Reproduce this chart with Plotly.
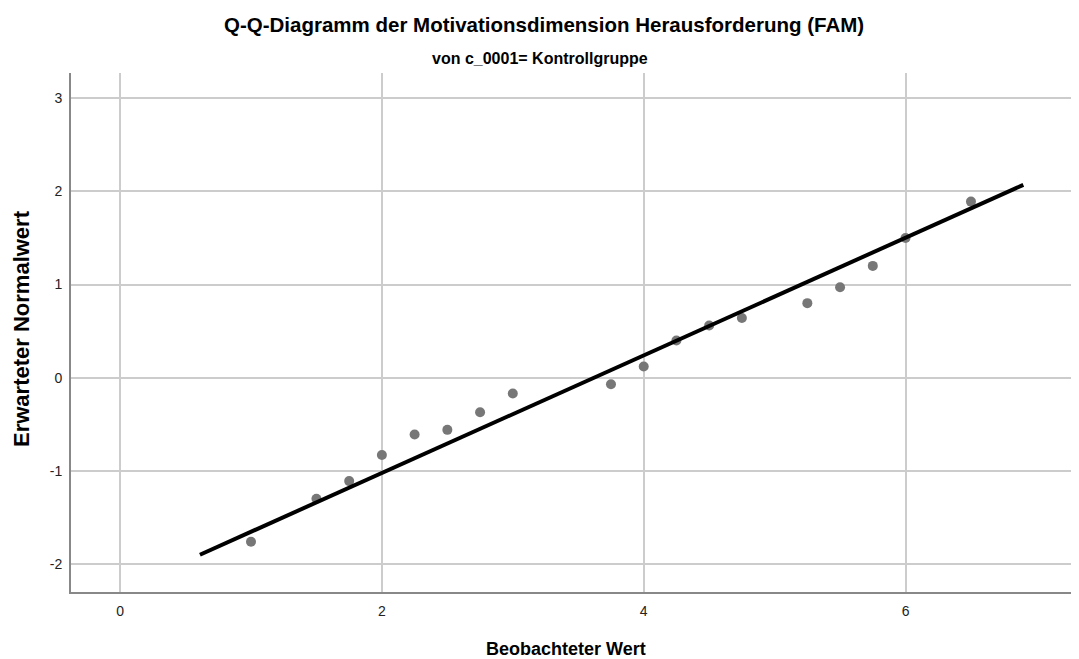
import plotly.graph_objects as go

observed = [1.0, 1.5, 1.75, 2.0, 2.25, 2.5, 2.75, 3.0, 3.75, 4.0, 4.25, 4.5, 4.75, 5.25, 5.5, 5.75, 6.0, 6.5]
expected = [-1.76, -1.30, -1.11, -0.83, -0.61, -0.56, -0.37, -0.17, -0.07, 0.12, 0.40, 0.56, 0.64, 0.80, 0.97, 1.20, 1.50, 1.89]
line_x = [0.61, 6.90]
line_y = [-1.90, 2.07]
x_ticks = [0, 2, 4, 6]
x_ticktext = ["0", "2", "4", "6"]
y_ticks = [-2, -1, 0, 1, 2, 3]
y_ticktext = ["-2", "-1", "0", "1", "2", "3"]

FONT = "Liberation Sans, Arial, sans-serif"
W, H = 1079, 659
OFF = 8  # page body margin offset of the figure in the browser
# target screen pixels of plot area: left 71, right 1077, top 73, bottom 592
ML, MT = 71 - OFF, 73 - OFF
MR = W - (1077 - OFF)
MB = H - (592 - OFF)
PW, PH = W - ML - MR, H - MT - MB


def px_x(x):
    return (x - OFF - ML) / PW


def px_y(y):
    return 1 + (MT - (y - OFF)) / PH


fig = go.Figure()
fig.add_trace(go.Scatter(x=observed, y=expected, mode="markers",
                         marker=dict(color="#777777", size=10), showlegend=False))
fig.add_trace(go.Scatter(x=line_x, y=line_y, mode="lines",
                         line=dict(color="black", width=4), showlegend=False))

fig.update_layout(
    width=W, height=H,
    paper_bgcolor="white", plot_bgcolor="white",
    margin=dict(l=ML, r=MR, t=MT, b=MB, autoexpand=False),
    font=dict(family=FONT, color="#222222"),
    annotations=[
        dict(text="<b>Q-Q-Diagramm der Motivationsdimension Herausforderung (FAM)</b>",
             x=px_x(544), xref="paper", y=px_y(24), yref="paper",
             yanchor="middle", showarrow=False,
             font=dict(size=20.5, family=FONT, color="black")),
        dict(text="<b>von c_0001= Kontrollgruppe</b>",
             x=px_x(540), xref="paper", y=px_y(59), yref="paper",
             yanchor="middle", showarrow=False,
             font=dict(size=16, family=FONT, color="black")),
        dict(text="<b>Beobachteter Wert</b>",
             x=px_x(566), xref="paper", y=px_y(649), yref="paper",
             yanchor="middle", showarrow=False,
             font=dict(size=18, family=FONT, color="black")),
        dict(text="<b>Erwarteter Normalwert</b>", textangle=-90,
             x=px_x(21), xref="paper", y=px_y(329), yref="paper",
             xanchor="center", yanchor="middle", showarrow=False,
             font=dict(size=22, family=FONT, color="black")),
    ],
    xaxis=dict(range=[-0.375, 7.31], tickvals=x_ticks, ticktext=x_ticktext, showgrid=True,
               gridcolor="#cccccc", gridwidth=1.5, zeroline=False, automargin=False,
               showline=True, linecolor="#888888", linewidth=2,
               ticks="outside", ticklen=5, tickcolor="rgba(0,0,0,0)",
               tickfont=dict(size=14, family=FONT, color="#222222")),
    yaxis=dict(range=[-2.30, 3.27], tickvals=y_ticks, ticktext=y_ticktext, showgrid=True,
               gridcolor="#cccccc", gridwidth=1.5, zeroline=False, automargin=False,
               showline=True, linecolor="#888888", linewidth=2,
               ticks="outside", ticklen=4, tickcolor="rgba(0,0,0,0)",
               tickfont=dict(size=14, family=FONT, color="#222222")),
)

fig.write_html("out.html")
